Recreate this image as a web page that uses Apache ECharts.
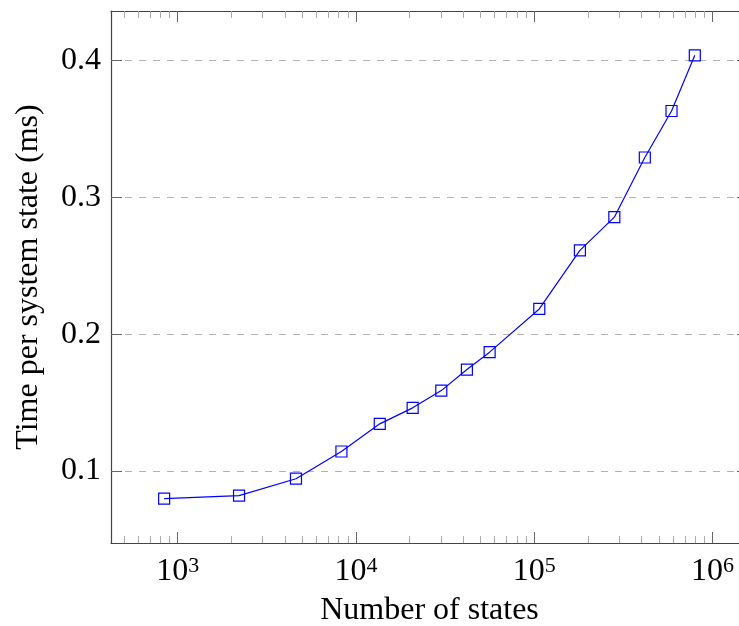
<!DOCTYPE html>
<html>
<head>
<meta charset="utf-8">
<script src="https://cdn.jsdelivr.net/npm/echarts@6/dist/echarts.min.js"></script>
<style>
  html, body { margin: 0; padding: 0; background: #fff; }
  #chart { width: 739px; height: 626px; }
</style>
</head>
<body>
<div id="chart"></div>
<script>
// number of states (x, log scale) and time per state in ms (y)
var states = [840, 2210, 4610, 8290, 13600, 20800, 30100, 41900, 56200, 106700, 180300, 281200, 416900, 588500, 795000]
var timeMs = [0.0798, 0.0820, 0.0944, 0.1143, 0.1345, 0.1462, 0.1588, 0.1742, 0.1869, 0.2185, 0.2613, 0.2856, 0.3292, 0.3632, 0.4039]

var xMajorTicks = [1e3, 1e4, 1e5, 1e6]
var yTicks = [0.1, 0.2, 0.3, 0.4]
var xRange = [423, 1.58e6]
var yRange = [0.0474, 0.4363]

// minor ticks 2..9 x 10^k inside the visible range
var xMinorTicks = []
for (var e = 2; e <= 6; e++) {
  for (var m = 2; m <= 9; m++) {
    var v = m * Math.pow(10, e)
    if (v > xRange[0] && v < xRange[1]) xMinorTicks.push(v)
  }
}

var FONT = 'Liberation Serif'
var axisColor = '#444'

function xAxisOf(position, ticks, len, color, withLine, withLabels) {
  return {
    type: 'log',
    logBase: 10,
    position: position,
    min: xRange[0],
    max: xRange[1],
    axisLine: { show: withLine, lineStyle: { color: axisColor, width: 1.2 } },
    axisTick: { show: true, inside: true, length: len, customValues: ticks, lineStyle: { color: color, width: 1 } },
    axisLabel: withLabels ? {
      show: true,
      customValues: ticks,
      margin: 12,
      formatter: function (v) {
        return '{b|10}{s|' + Math.round(Math.log10(v)) + '}'
      },
      rich: {
        b: { fontFamily: FONT, fontSize: 32, color: '#000', lineHeight: 34 },
        s: { fontFamily: FONT, fontSize: 22, color: '#000', verticalAlign: 'top', lineHeight: 22 }
      }
    } : { show: false },
    splitLine: { show: false }
  }
}

function yAxisOf(position, withLabels) {
  return {
    type: 'value',
    position: position,
    min: yRange[0],
    max: yRange[1],
    name: withLabels ? 'Time per system state (ms)' : '',
    nameLocation: 'middle',
    nameGap: 66,
    nameTextStyle: { fontFamily: FONT, fontSize: 32, color: '#000' },
    axisLine: { show: true, lineStyle: { color: axisColor, width: 1.2 } },
    axisTick: { show: true, inside: true, length: 11, customValues: yTicks, lineStyle: { color: '#666', width: 1 } },
    axisLabel: withLabels ? {
      show: true,
      customValues: yTicks,
      margin: 10,
      fontFamily: FONT,
      fontSize: 32,
      color: '#000',
      formatter: function (v) { return v.toFixed(1) }
    } : { show: false },
    splitLine: withLabels ? {
      show: true,
      lineStyle: { color: '#b3b3b3', width: 1, type: [7, 7] }
    } : { show: false }
  }
}

var bottomMajor = xAxisOf('bottom', xMajorTicks, 11, '#666', true, true)
bottomMajor.name = 'Number of states'
bottomMajor.nameLocation = 'middle'
bottomMajor.nameGap = 52
bottomMajor.nameTextStyle = { fontFamily: FONT, fontSize: 32, color: '#000' }

var option = {
  animation: false,
  backgroundColor: '#fff',
  grid: { left: 111, right: -9, top: 11, bottom: 83, containLabel: false, outerBoundsMode: 'none' },
  xAxis: [
    bottomMajor,
    xAxisOf('bottom', xMinorTicks, 7, '#aaa', false, false),
    xAxisOf('top', xMajorTicks, 11, '#666', true, false),
    xAxisOf('top', xMinorTicks, 7, '#aaa', false, false)
  ],
  yAxis: [
    yAxisOf('left', true),
    yAxisOf('right', false)
  ],
  series: [
    {
      name: 'time',
      type: 'line',
      xAxisIndex: 0,
      yAxisIndex: 0,
      data: states.map(function (s, i) { return [s, timeMs[i]] }),
      symbol: 'rect',
      symbolSize: 11,
      showAllSymbol: true,
      lineStyle: { color: '#0000ff', width: 1.2 },
      itemStyle: { color: 'rgba(0,0,0,0)', borderColor: '#0000ff', borderWidth: 1.2 },
      z: 5
    }
  ]
}

var chart = echarts.init(document.getElementById('chart'), null, { renderer: 'canvas' })
chart.setOption(option)
</script>
</body>
</html>
